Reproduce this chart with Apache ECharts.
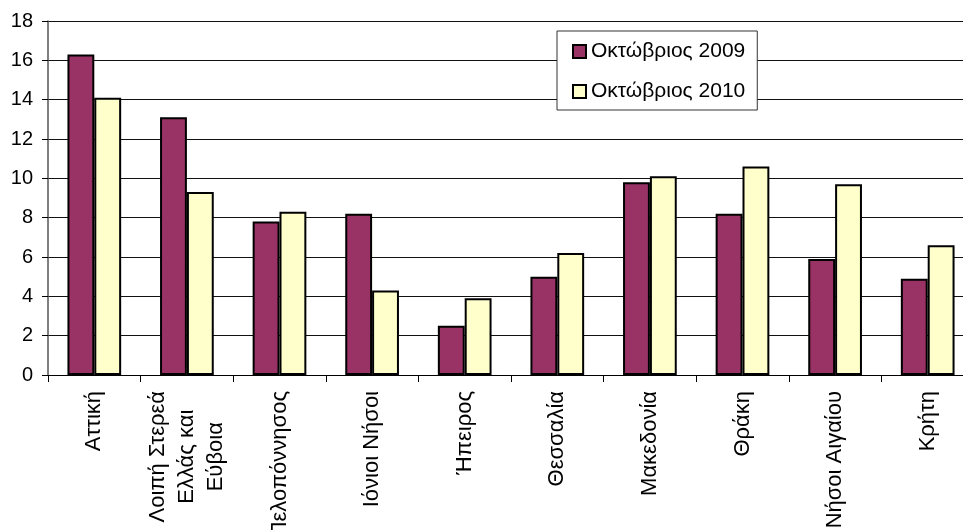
<!DOCTYPE html>
<html>
<head>
<meta charset="utf-8">
<script src="https://cdn.jsdelivr.net/npm/echarts@6/dist/echarts.min.js"></script>
<style>html,body{margin:0;padding:0;background:#fff}#c{width:963px;height:530px}</style>
</head>
<body>
<div id="c"></div>
<script>
var categories = ['Αττική', 'Λοιπή Στερεά\nΕλλάς και\nΕύβοια', 'Πελοπόννησος', 'Ιόνιοι Νήσοι', 'Ήπειρος', 'Θεσσαλία', 'Μακεδονία', 'Θράκη', 'Νήσοι Αιγαίου', 'Κρήτη'];
var seriesNames = ['Οκτώβριος 2009', 'Οκτώβριος 2010'];
var values2009 = [16.3, 13.1, 7.8, 8.2, 2.5, 5.0, 9.8, 8.2, 5.9, 4.9];
var values2010 = [14.1, 9.3, 8.3, 4.3, 3.9, 6.2, 10.1, 10.6, 9.7, 6.6];
var yTicks = {min: 0, max: 18, interval: 2};

var FONT = '"Liberation Sans", Arial, sans-serif';
var chart = echarts.init(document.getElementById('c'), null, {renderer: 'canvas'});
chart.setOption({
  animation: false,
  backgroundColor: '#fff',
  grid: {left: 48, top: 21, bottom: 155, width: 926, containLabel: false, outerBoundsMode: 'none'},
  legend: {
    orient: 'vertical',
    left: 557, top: 31,
    backgroundColor: '#fff',
    borderColor: '#333', borderWidth: 1, borderRadius: 0,
    padding: [10, 12, 8, 15],
    itemGap: 19,
    itemWidth: 13, itemHeight: 13,
    icon: 'rect',
    textStyle: {fontFamily: FONT, fontSize: 21, color: '#000', width: 158, overflow: 'none'},
    data: seriesNames
  },
  xAxis: {
    type: 'category',
    data: categories,
    axisLine: {show: true, lineStyle: {color: '#000', width: 1}},
    axisTick: {show: true, length: 7, lineStyle: {color: '#000'}},
    axisLabel: {
      interval: 0, rotate: 90, margin: 16, color: '#000',
      fontFamily: FONT, fontSize: 22, lineHeight: 29,
      formatter: function (v) { return v.split('\n').map(function (l) { return '{c|' + l + '}'; }).join('\n'); },
      rich: {c: {align: 'center', fontFamily: FONT, fontSize: 22, lineHeight: 29, color: '#000'}}
    },
    splitLine: {show: false}
  },
  yAxis: {
    type: 'value',
    min: yTicks.min, max: yTicks.max, interval: yTicks.interval,
    axisLine: {show: true, lineStyle: {color: '#555', width: 1.5}},
    axisTick: {show: true, length: 6, lineStyle: {color: '#000'}},
    axisLabel: {margin: 15, color: '#000', fontFamily: FONT, fontSize: 20},
    splitLine: {show: true, lineStyle: {color: '#111', width: 1}}
  },
  series: [
    {name: seriesNames[0], type: 'bar', data: values2009, barGap: '0%', barCategoryGap: '42%',
     itemStyle: {color: '#993366', borderColor: '#000', borderWidth: 2}},
    {name: seriesNames[1], type: 'bar', data: values2010, barGap: '0%', barCategoryGap: '42%',
     itemStyle: {color: '#FFFFCC', borderColor: '#000', borderWidth: 2}}
  ]
});
</script>
</body>
</html>
